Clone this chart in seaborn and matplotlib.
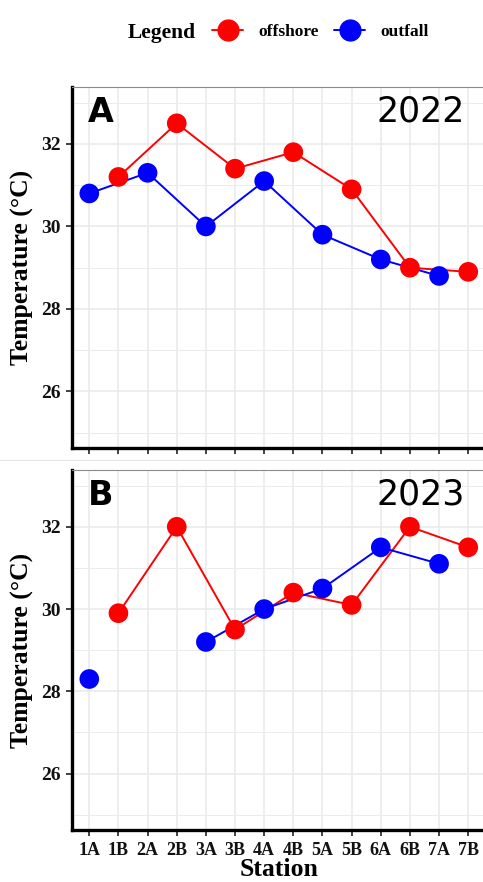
import numpy as np
import pandas as pd
import seaborn as sns
import matplotlib.pyplot as plt
from matplotlib.lines import Line2D

sns.set_style('white')
plt.rcParams['font.family'] = ['Liberation Serif', 'DejaVu Serif']
plt.rcParams['text.color'] = 'black'
plt.rcParams['axes.labelcolor'] = 'black'

# %%
stations = ['1A', '1B', '2A', '2B', '3A', '3B', '4A', '4B', '5A', '5B', '6A', '6B', '7A', '7B']
offshore_stations = ['1B', '2B', '3B', '4B', '5B', '6B', '7B']
outfall_stations = ['1A', '2A', '3A', '4A', '5A', '6A', '7A']

offshore_2022 = [31.2, 32.5, 31.4, 31.8, 30.9, 29.0, 28.9]
outfall_2022 = [30.8, 31.3, 30.0, 31.1, 29.8, 29.2, 28.8]
offshore_2023 = [29.9, 32.0, 29.5, 30.4, 30.1, 32.0, 31.5]
outfall_2023 = [28.3, np.nan, 29.2, 30.0, 30.5, 31.5, 31.1]

years = ['2022', '2023']
panel_labels = ['A', 'B']
y_ticks = [26, 28, 30, 32]
minor_ticks = [25, 27, 29, 31, 33]
sites = ['offshore', 'outfall']
colors = {'offshore': '#FF0000', 'outfall': '#0000FF'}

# %%
rows = []
for year, off, out in [('2022', offshore_2022, outfall_2022), ('2023', offshore_2023, outfall_2023)]:
    for site, sts, vals in [('offshore', offshore_stations, off), ('outfall', outfall_stations, out)]:
        for st, v in zip(sts, vals):
            rows.append({'year': year, 'site': site, 'station': st, 'temp': v})
df = pd.DataFrame(rows)
df['pos'] = df['station'].map({s: i for i, s in enumerate(stations)})
# line breaks where a value is missing
df['seg'] = df.groupby(['year', 'site'])['temp'].transform(lambda s: s.isna().cumsum())

# %%
W, H = 483, 882
fig = plt.figure(figsize=(W / 100, H / 100), dpi=100)

left = 71.8 / W
width = 14.2 * 29.15 / W
boxes = [(87, 448), (470, 830)]

for i, year in enumerate(years):
    top, bot = boxes[i]
    ax = fig.add_axes([left, 1 - bot / H, width, (bot - top) / H])
    d = df[df['year'] == year].dropna()
    sns.lineplot(data=d, x='pos', y='temp', hue='site', hue_order=sites, units='seg',
                 estimator=None, palette=colors, lw=1.4, legend=False, ax=ax, zorder=2)
    sns.scatterplot(data=d, x='pos', y='temp', hue='site', hue_order=sites, palette=colors,
                    s=200, edgecolor='none', legend=False, ax=ax, zorder=3)

    ax.set_xlim(-0.6, 13.6)
    ax.set_ylim(24.63, 33.38)
    ax.set_xticks(range(len(stations)))
    ax.set_yticks(y_ticks)
    ax.set_yticks(minor_ticks, minor=True)
    ax.set_yticklabels([str(t) for t in y_ticks], fontsize=14, fontweight='bold')
    if i == 1:
        ax.set_xticklabels(stations, fontsize=13, fontweight='bold')
        ax.set_xlabel('Station', fontsize=18.5, fontweight='bold')
        ax.xaxis.label.set_va('bottom')
        ax.xaxis.set_label_coords(0.5, -(881 - bot) / (bot - top))
    else:
        ax.set_xticklabels([])
        ax.set_xlabel('')
    ax.set_ylabel('Temperature (\u00b0C)', fontsize=18.5, fontweight='bold', labelpad=5)

    ax.grid(True, which='major', color='#EBEBEB', lw=1.2, zorder=0)
    ax.grid(True, which='minor', axis='y', color='#EBEBEB', lw=0.7, zorder=0)
    ax.set_axisbelow(True)
    ax.tick_params(axis='both', which='major', length=4, width=1.3, color='#333333',
                   direction='out', bottom=True, left=True, labelcolor='#111111')
    ax.tick_params(axis='y', which='major', pad=4)
    ax.tick_params(axis='x', which='major', pad=4.5)
    ax.tick_params(axis='y', which='minor', length=0)

    for s in ['left', 'bottom']:
        ax.spines[s].set_linewidth(2.4)
        ax.spines[s].set_color('black')
    ax.spines['top'].set_linewidth(0.8)
    ax.spines['top'].set_color('#8c8c8c')
    ax.spines['right'].set_visible(False)

    ax.text(0.039, 0.975, panel_labels[i], transform=ax.transAxes, ha='left', va='top',
            fontsize=24, fontweight='bold', family='DejaVu Sans', color='black')
    ax.text(0.950, 0.98, year, transform=ax.transAxes, ha='right', va='top',
            fontsize=25, family='DejaVu Sans', color='black')

# separator between the two panels
fig.add_artist(Line2D([0, 1], [1 - 460 / H, 1 - 460 / H], color='#E6E6E6', lw=0.8))

# %%
handles = [Line2D([0], [0], color=colors[s], marker='o', markersize=15, lw=1.4) for s in sites]
fig.text(128 / W, 1 - 33 / H, 'Legend', ha='left', va='center', fontsize=15.5, fontweight='bold')
fig.legend(handles, sites, loc='center left', bbox_to_anchor=(212 / W, 1 - 32 / H), ncol=2,
           frameon=False, borderpad=0, borderaxespad=0, handlelength=1.8, handletextpad=0.85,
           columnspacing=0.9, prop={'weight': 'bold', 'size': 12.5})

fig.savefig('out.png', dpi=100)
